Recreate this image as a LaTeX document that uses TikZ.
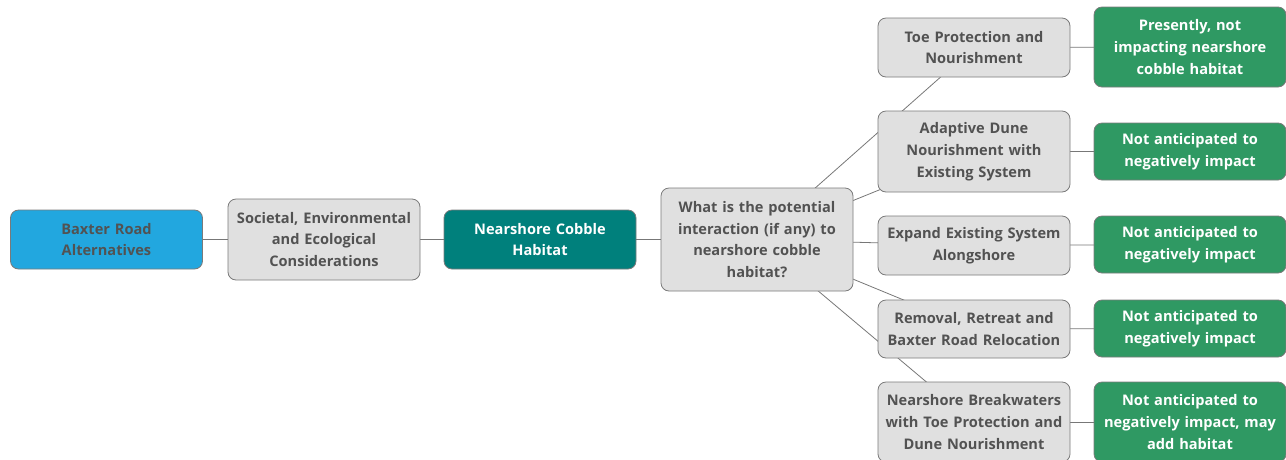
\documentclass[tikz,border=0pt]{standalone}
\usepackage{fontspec}
\setmainfont{Open Sans}
\usetikzlibrary{backgrounds}
\definecolor{boxline}{HTML}{7A7A7A}
\definecolor{lightfill}{HTML}{E0E0E0}
\definecolor{darktext}{HTML}{525252}
\definecolor{skyfill}{HTML}{22A7DF}
\definecolor{tealfill}{HTML}{00807C}
\definecolor{greenfill}{HTML}{2F9963}
\definecolor{linkline}{HTML}{777777}
\begin{document}
\begin{tikzpicture}[x=1pt,y=-1pt,
  box/.style={draw=boxline, rounded corners=8pt, line width=0.8pt,
    minimum width=192pt, text width=190pt, align=center, inner sep=0pt,
    font=\bfseries\fontsize{14.6}{21.8}\selectfont},
  graybox/.style={box, fill=lightfill, text=darktext},
  bluebox/.style={box, fill=skyfill, text=darktext},
  tealbox/.style={box, fill=tealfill, text=white},
  greenbox/.style={box, fill=greenfill, text=white},
  link/.style={draw=linkline, line width=0.8pt}]
\useasboundingbox (0,0) rectangle (1286,459);

% root and first levels
\node[bluebox, minimum height=59pt] (baxter) at (106.5,239.5) {Baxter Road\\Alternatives};
\node[graybox, minimum height=81pt] (soc) at (324,239.5) {Societal, Environmental\\and Ecological\\Considerations};
\node[tealbox, minimum height=59pt] (cobble) at (540,239.5) {Nearshore Cobble\\Habitat};
\node[graybox, minimum height=103pt] (q) at (757,239.5) {What is the potential\\interaction (if any) to\\nearshore cobble\\habitat?};

% alternatives
\node[graybox, minimum height=59pt] (toe) at (974,47.5) {Toe Protection and\\Nourishment};
\node[graybox, minimum height=81pt] (adapt) at (974,151.5) {Adaptive Dune\\Nourishment with\\Existing System};
\node[graybox, minimum height=59pt] (expand) at (974,245.5) {Expand Existing System\\Alongshore};
\node[graybox, minimum height=58pt] (removal) at (974,329) {Removal, Retreat and\\Baxter Road Relocation};
\node[graybox, minimum height=80pt] (breakw) at (974,422) {Nearshore Breakwaters\\with Toe Protection and\\Dune Nourishment};

% outcomes
\node[greenbox, minimum height=80pt] (o1) at (1190,47) {Presently, not\\impacting nearshore\\cobble habitat};
\node[greenbox, minimum height=57pt] (o2) at (1190,151.5) {Not anticipated to\\negatively impact};
\node[greenbox, minimum height=57pt] (o3) at (1190,244.5) {Not anticipated to\\negatively impact};
\node[greenbox, minimum height=57pt] (o4) at (1190,328.5) {Not anticipated to\\negatively impact};
\node[greenbox, minimum height=80pt] (o5) at (1190,422) {Not anticipated to\\negatively impact, may\\add habitat};

% connectors, behind the boxes
\begin{scope}[on background layer]
\path[link] (baxter.center) -- (soc.center);
\path[link] (soc.center) -- (cobble.center);
\path[link] (cobble.center) -- (q.center);
\foreach \n in {toe,adapt,expand,removal,breakw}
  \path[link] (q.center) -- (\n.center);
\path[link] (toe.center) -- (o1.center);
\path[link] (adapt.center) -- (o2.center);
\path[link] (expand.center) -- (o3.center);
\path[link] (removal.center) -- (o4.center);
\path[link] (breakw.center) -- (o5.center);
\end{scope}
\end{tikzpicture}
\end{document}
